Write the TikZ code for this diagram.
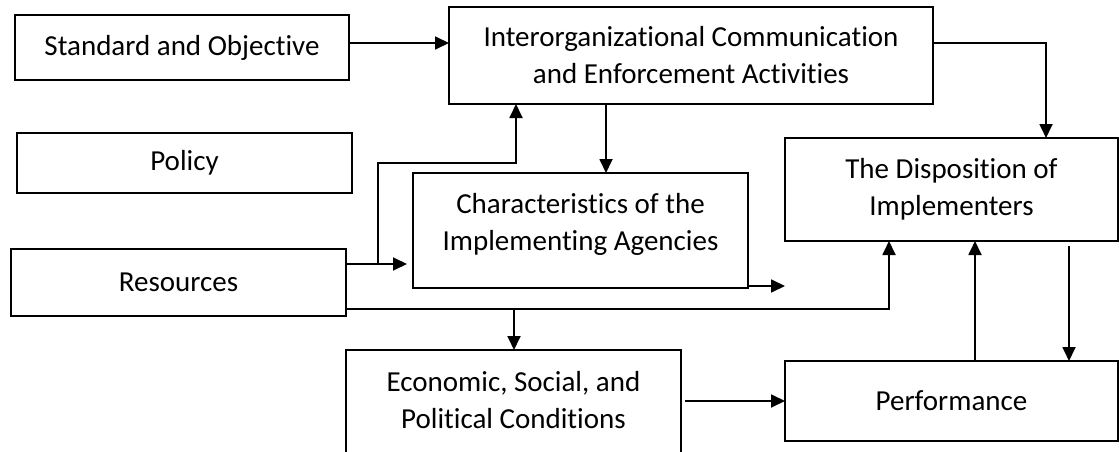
\documentclass[tikz,border=0pt]{standalone}
\usepackage{fontspec}
\setmainfont{Carlito}[Ligatures=NoCommon]
\usetikzlibrary{arrows.meta}
\begin{document}
\begin{tikzpicture}[x=1pt,y=-1pt,
  every node/.style={inner sep=0pt,outer sep=0pt,align=center,
    font=\fontsize{29}{37}\selectfont},
  boxnode/.style={draw,line width=1.8pt},
  arr/.style={line width=1.8pt,-{Triangle[length=14pt,width=13pt]}},
  plain/.style={line width=1.8pt}]
\useasboundingbox (0,0) rectangle (1120,452);
\node[boxnode,minimum width=334pt,minimum height=65pt] (std) at (182,47.5) {Standard and Objective};
\node[boxnode,minimum width=335pt,minimum height=60pt] (policy) at (184.5,163) {Policy};
\node[boxnode,minimum width=484pt,minimum height=97pt] (inter) at (691,55.5) {Interorganizational Communication\\and Enforcement Activities};
\node[boxnode,minimum width=335pt,minimum height=115pt] (charac) at (580.5,230.5) {Characteristics of the\\Implementing Agencies\rule[-17pt]{0pt}{17pt}};
\node[boxnode,minimum width=333pt,minimum height=103pt] (disp) at (951.5,189.5) {The Disposition of\\Implementers};
\node[boxnode,minimum width=335pt,minimum height=67pt] (res) at (178.5,282.5) {Resources};
\node[minimum width=335pt,minimum height=100pt] (econ) at (513.5,400) {Economic, Social, and\\Political Conditions};
\draw[plain] ([yshift=-12pt]econ.south west) -- (econ.north west) -- (econ.north east) -- ([yshift=-12pt]econ.south east);
\node[boxnode,minimum width=333pt,minimum height=80pt] (perf) at (951.5,401) {Performance};
% connectors
\draw[arr] ([yshift=4.5pt]std.east) -- ([yshift=4.5pt]std.east -| inter.west);
\draw[arr] ([yshift=12.5pt]inter.east) -| ([xshift=94.5pt]disp.north);
\draw[arr] ([xshift=-85pt]inter.south) -- ([xshift=-85pt]inter.south |- charac.north);
\coordinate (r1) at ([yshift=18.5pt]res.east);
\draw[arr] (r1) -- ([xshift=-6pt]charac.west |- r1);
\coordinate (j1) at (378,264);
\coordinate (j2) at (516,163);
\draw[arr] (j1) |- (j2) -- (j2 |- inter.south);
\draw[arr] ([yshift=2pt]charac.south east) -- ([yshift=2pt]charac.south east -| disp.west);
\coordinate (r2) at ([yshift=7pt]res.south east);
\draw[arr] (r2) -| ([xshift=-62.5pt]disp.south);
\coordinate (j3) at (514,309);
\draw[arr] (j3) -- (j3 |- econ.north);
\draw[arr] ([xshift=4pt]econ.east |- perf.west) -- (perf.west);
\draw[arr] ([xshift=23.5pt]perf.north) -- ([xshift=23.5pt]disp.south);
\draw[arr] ([xshift=117.5pt,yshift=-5pt]disp.south) -- ([xshift=117.5pt]perf.north);
\end{tikzpicture}
\end{document}
